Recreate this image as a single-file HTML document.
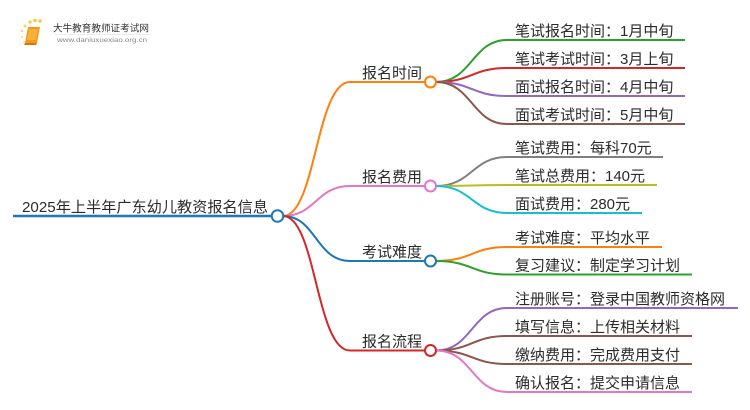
<!DOCTYPE html>
<html><head><meta charset="utf-8">
<style>
html,body{margin:0;padding:0;background:#fff;}
svg{display:block;}
text{font-family:"Liberation Sans","Noto Sans CJK SC",sans-serif;fill:#2b2b2b;}
</style></head>
<body>
<svg width="750" height="410" viewBox="0 0 750 410" xmlns="http://www.w3.org/2000/svg">
<!-- logo -->
<g>
  <circle cx="30" cy="22" r="1.6" fill="#f9c84a"/>
  <circle cx="35" cy="20.5" r="1.8" fill="#f9c84a"/>
  <circle cx="40" cy="21" r="1.8" fill="#f9c84a"/>
  <circle cx="25" cy="26" r="1.5" fill="#fbd66e"/>
  <circle cx="22" cy="31" r="1.3" fill="#fbd66e"/>
  <circle cx="22" cy="37" r="1.2" fill="#fde39a"/>
  <circle cx="24" cy="42" r="1.1" fill="#fde39a"/>
  <path d="M28 27 L40 27 L37 43 L25 43 Z" fill="#f29a1a"/>
  <path d="M29 29 L38 29 L36 40 L27 40 Z" fill="#f7b13a"/>
  <path d="M25 43 L37 43 L36 45 L24 45 Z" fill="#d9740c"/>
  <text x="53" y="31.5" font-size="9.6" style="fill:#333">大牛教育教师证考试网</text>
  <line x1="55" y1="34.5" x2="150" y2="34.5" stroke="#e4e4e4" stroke-width="0.8"/>
  <text x="57" y="42" font-size="6.5" textLength="90" lengthAdjust="spacingAndGlyphs" style="fill:#888">www.daniuxuexiao.org.cn</text>
</g>

<g fill="none" stroke-width="2">
  <line x1="13" y1="216" x2="272" y2="216" stroke="#1f77b4" stroke-width="2.5"/>
  <path d="M283 216 C316 216 316 82 350 82 L425 82" stroke="#ff7f0e"/>
  <path d="M283 216 C316 216 316 186 350 186 L425 186" stroke="#e377c2"/>
  <path d="M283 216 C316 216 316 261 350 261 L425 261" stroke="#1f77b4"/>
  <path d="M283 216 C316 216 316 350.5 350 350.5 L425 350.5" stroke="#d62728"/>

  <path d="M436 82 C472 82 472 40 507 40 L685 40" stroke="#2ca02c"/>
  <path d="M436 82 C472 82 472 68 507 68 L685 68" stroke="#d62728"/>
  <path d="M436 82 C472 82 472 96 507 96 L685 96" stroke="#9467bd"/>
  <path d="M436 82 C472 82 472 124 507 124 L685 124" stroke="#8c564b"/>

  <path d="M436 186 C472 186 472 157 507 157 L663 157" stroke="#7f7f7f"/>
  <path d="M436 186 C472 186 472 185 507 185 L657 185" stroke="#bcbd22"/>
  <path d="M436 186 C472 186 472 213 507 213 L642 213" stroke="#17becf"/>

  <path d="M436 261 C472 261 472 247 507 247 L662 247" stroke="#ff7f0e"/>
  <path d="M436 261 C472 261 472 274.5 507 274.5 L692 274.5" stroke="#2ca02c"/>

  <path d="M436 350.5 C472 350.5 472 308 507 308 L738 308" stroke="#9467bd"/>
  <path d="M436 350.5 C472 350.5 472 336 507 336 L692 336" stroke="#8c564b"/>
  <path d="M436 350.5 C472 350.5 472 364 507 364 L692 364" stroke="#8c564b"/>
  <path d="M436 350.5 C472 350.5 472 392 507 392 L692 392" stroke="#e377c2"/>
</g>

<g fill="#fff" stroke-width="2">
  <circle cx="277.5" cy="216" r="5.8" stroke="#1f77b4"/>
  <circle cx="430.5" cy="82" r="5.5" stroke="#ff7f0e"/>
  <circle cx="430.5" cy="186" r="5.5" stroke="#e377c2"/>
  <circle cx="430.5" cy="261" r="5.5" stroke="#1f77b4"/>
  <circle cx="430.5" cy="350.5" r="5.5" stroke="#d62728"/>
</g>

<g font-size="15">
  <text x="22" y="212" textLength="246" lengthAdjust="spacingAndGlyphs">2025年上半年广东幼儿教资报名信息</text>

  <text x="362" y="78">报名时间</text>
  <text x="362" y="182">报名费用</text>
  <text x="362" y="257">考试难度</text>
  <text x="362" y="346.5">报名流程</text>

  <text x="515" y="36">笔试报名时间：1月中旬</text>
  <text x="515" y="64">笔试考试时间：3月上旬</text>
  <text x="515" y="92">面试报名时间：4月中旬</text>
  <text x="515" y="120">面试考试时间：5月中旬</text>

  <text x="515" y="153">笔试费用：每科70元</text>
  <text x="515" y="181">笔试总费用：140元</text>
  <text x="515" y="209">面试费用：280元</text>

  <text x="515" y="243">考试难度：平均水平</text>
  <text x="515" y="270.5">复习建议：制定学习计划</text>

  <text x="515" y="304">注册账号：登录中国教师资格网</text>
  <text x="515" y="332">填写信息：上传相关材料</text>
  <text x="515" y="360">缴纳费用：完成费用支付</text>
  <text x="515" y="388">确认报名：提交申请信息</text>
</g>
</svg>
</body></html>
